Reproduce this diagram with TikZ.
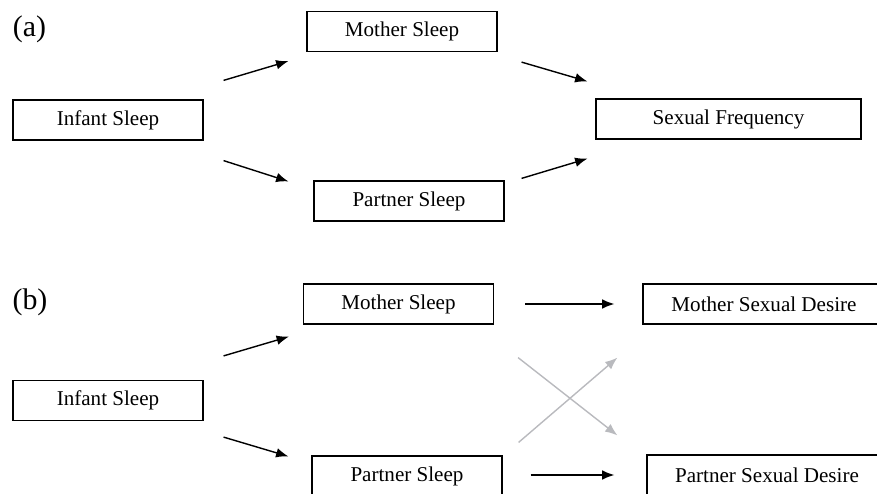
\documentclass[tikz,border=0pt]{standalone}
\usepackage{fontspec}
\setmainfont{Liberation Serif}
\usetikzlibrary{arrows.meta}
\definecolor{crossgray}{RGB}{185,186,190}

\begin{document}
\begin{tikzpicture}[x=0.02cm, y=-0.02cm, ->, >={Latex[length=7pt,width=5.5pt]}, line width=0.8pt,
  every node/.style={draw, rectangle, line width=0.7pt, inner sep=0pt, minimum width=3.8cm, minimum height=0.8cm, font=\fontsize{12}{14}\selectfont},
  tag/.style={draw=none, minimum width=0pt, minimum height=0pt, font=\fontsize{17}{20}\selectfont}]
\clip (0,0) rectangle (877,494);
% panel (a)
\node[tag] (lblA) at (29.5,29) {(a)};
\node (infA) at (108,120) {Infant Sleep};
\node (motA) at (402,31.5) {Mother Sleep};
\node (parA) at (409,201) {Partner Sleep};
\node[minimum width=5.3cm] (sexA) at (728.5,119) {Sexual Frequency};
\draw ([shift={(20,-19)}]infA.north east) -- ([shift={(-18,9)}]motA.south west);
\draw ([shift={(20,20)}]infA.south east) -- ([shift={(-25,1)}]parA.north west);
\draw ([shift={(24,10)}]motA.south east) -- ([shift={(-8,-17)}]sexA.north west);
\draw ([shift={(17,-2)}]parA.north east) -- ([shift={(-8,19)}]sexA.south west);
% panel (b)
\node[tag] (lblB) at (30,302) {(b)};
\node (infB) at (108,400.5) {Infant Sleep};
\node (motB) at (398.5,304) {Mother Sleep};
\node (parB) at (407,476) {Partner Sleep};
\node[minimum width=4.84cm] (mdsB) at (764,304) {Mother Sexual Desire};
\node[minimum width=4.8cm] (pdsB) at (767,475) {Partner Sexual Desire};
\draw ([shift={(20,-24)}]infB.north east) -- ([shift={(-14,12)}]motB.south west);
\draw ([shift={(20,16)}]infB.south east) -- ([shift={(-23,1)}]parB.north west);
\draw ([shift={(31,0)}]motB.east) -- ([shift={(-28,0)}]mdsB.west);
\draw ([shift={(28,-1)}]parB.east) -- ([shift={(-32,0)}]pdsB.west);
\draw[crossgray] ([shift={(24,33)}]motB.south east) -- ([shift={(-29,-19)}]pdsB.north west);
\draw[crossgray] ([shift={(16,-13)}]parB.north east) -- ([shift={(-25,33)}]mdsB.south west);
\end{tikzpicture}
\end{document}
